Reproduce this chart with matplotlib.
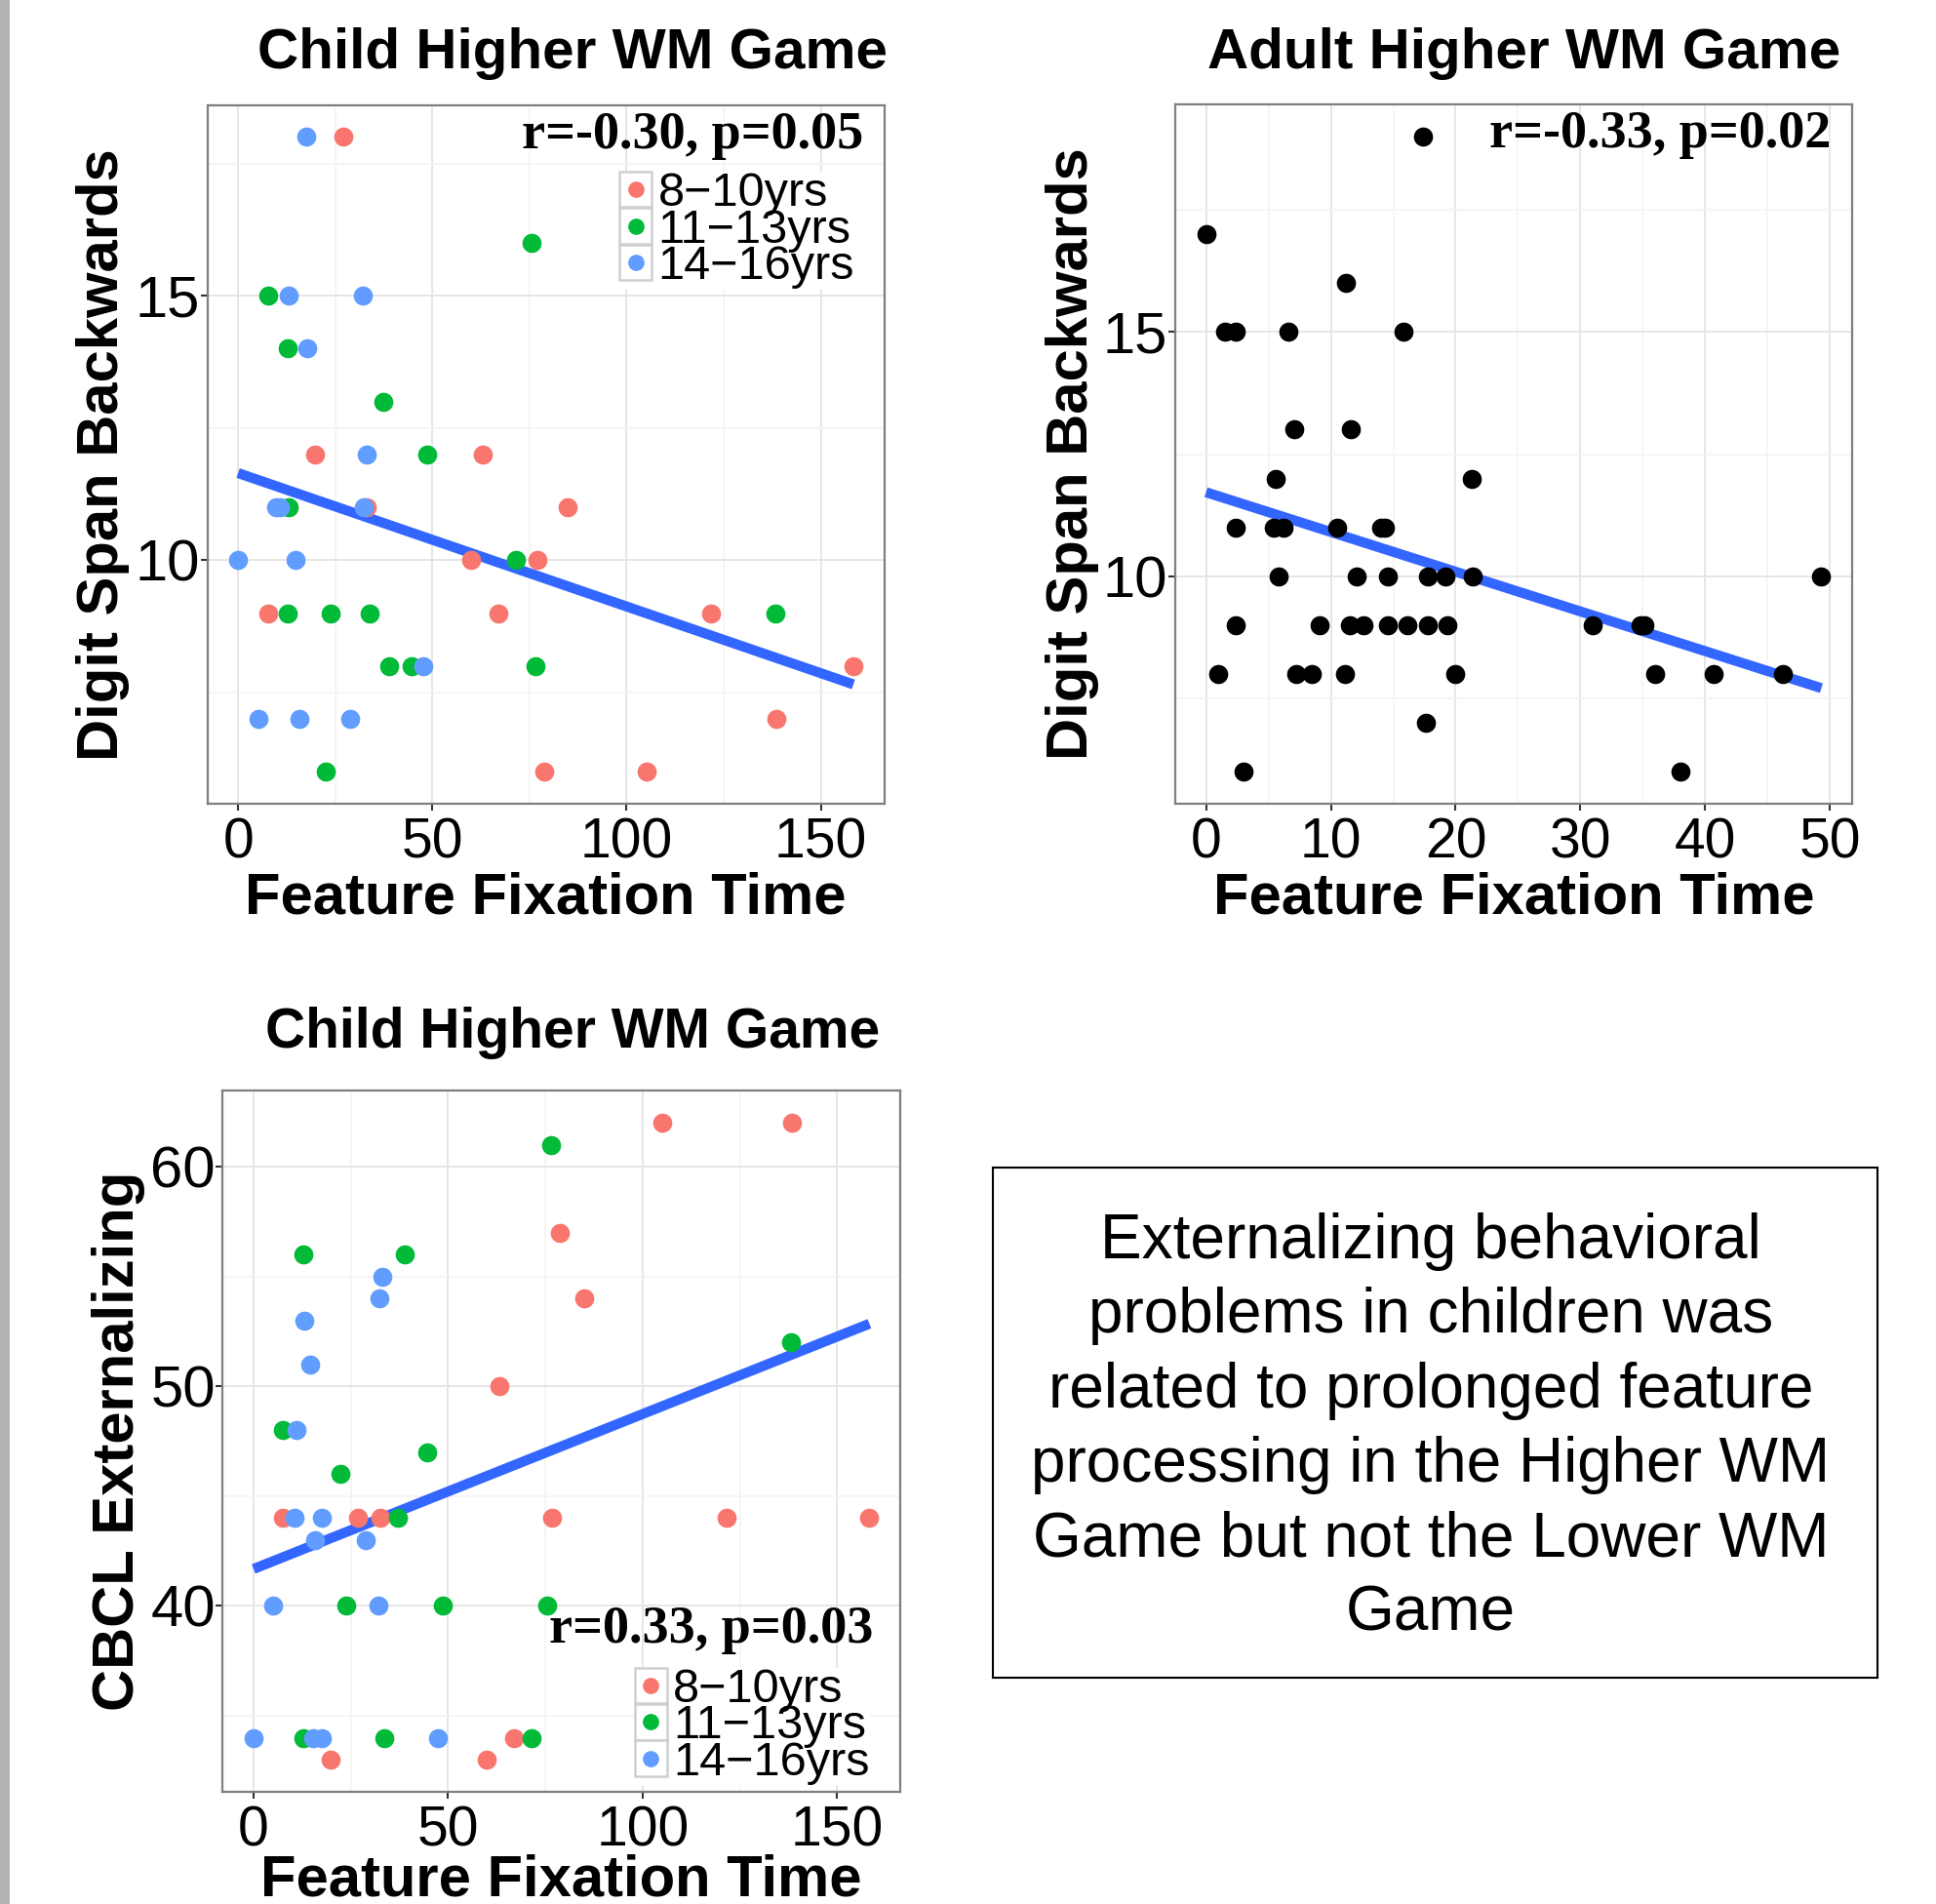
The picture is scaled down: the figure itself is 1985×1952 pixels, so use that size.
import numpy as np
import matplotlib
matplotlib.use("Agg")
import matplotlib.pyplot as plt
from matplotlib.lines import Line2D
from matplotlib.patches import Rectangle
from matplotlib.legend_handler import HandlerBase
from matplotlib.ticker import MultipleLocator

# ---- data ----
age_groups = ["8\u221210yrs", "11\u221213yrs", "14\u221216yrs"]
group_colors = ["#F8766D", "#00BA38", "#619CFF"]

# Child Higher WM Game: feature fixation time vs digit span backwards
ds_x_8_10 = [27.1, 19.7, 63.1, 33.1, 84.9, 60.0, 77.0, 7.8, 67.1, 121.8, 158.4, 138.5, 78.8, 105.2]
ds_y_8_10 = [18, 12, 12, 11, 11, 10, 10, 9, 9, 9, 8, 7, 6, 6]
ds_x_11_13 = [75.6, 7.7, 12.8, 37.4, 48.7, 13.1, 71.5, 12.8, 23.8, 33.9, 138.2, 38.9, 44.6, 76.5, 22.5]
ds_y_11_13 = [16, 15, 14, 13, 12, 11, 10, 9, 9, 9, 9, 8, 8, 8, 6]
ds_x_14_16 = [17.5, 12.9, 32.1, 17.7, 33.2, 9.7, 10.8, 32.4, 0.0, 14.9, 47.6, 5.2, 15.8, 28.9]
ds_y_14_16 = [18, 15, 15, 14, 12, 11, 11, 11, 10, 10, 8, 7, 7, 7]

# Adult Higher WM Game: feature fixation time vs digit span backwards
adult_x = [17.4, 0.0, 11.2, 1.5, 2.4, 6.6, 15.8, 7.1, 11.6, 5.6, 21.3,
           2.4, 5.4, 6.2, 10.5, 14.0, 14.3, 5.8, 12.1, 14.6, 17.8, 19.2, 21.4, 49.3,
           2.4, 9.1, 11.5, 12.6, 14.6, 16.1, 17.8, 19.3, 31.0, 34.8, 35.1,
           1.0, 7.2, 8.5, 11.1, 20.0, 36.0, 40.7, 46.2, 17.6, 3.0, 38.0]
adult_y = [19, 17, 16, 15, 15, 15, 15, 13, 13, 12, 12,
           11, 11, 11, 11, 11, 11, 10, 10, 10, 10, 10, 10, 10,
           9, 9, 9, 9, 9, 9, 9, 9, 9, 9, 9,
           8, 8, 8, 8, 8, 8, 8, 8, 7, 6, 6]

# Child Higher WM Game: feature fixation time vs CBCL externalizing
cb_x_8_10 = [105.0, 138.5, 78.6, 84.9, 63.1, 7.5, 26.9, 32.7, 76.8, 121.7, 158.3, 66.9, 19.8, 59.8]
cb_y_8_10 = [62, 62, 57, 54, 50, 44, 44, 44, 44, 44, 44, 34, 33, 33]
cb_x_11_13 = [76.4, 12.8, 38.9, 138.2, 7.5, 44.7, 22.3, 37.2, 23.7, 48.7, 75.4, 12.8, 33.7, 71.4]
cb_y_11_13 = [61, 56, 56, 52, 48, 47, 46, 44, 40, 40, 40, 34, 34, 34]
cb_x_14_16 = [33.0, 32.4, 13.0, 14.6, 11.1, 10.5, 17.6, 15.9, 28.9, 5.0, 32.2, 0.0, 15.4, 17.5, 47.3]
cb_y_14_16 = [55, 54, 53, 51, 48, 44, 44, 43, 43, 40, 40, 34, 34, 34, 34]

stats_child_ds = "r=-0.30, p=0.05"
stats_adult_ds = "r=-0.33, p=0.02"
stats_child_cb = "r=0.33, p=0.03"
note_text = ("Externalizing behavioral\nproblems in children was\nrelated to prolonged feature\n"
             "processing in the Higher WM\nGame but not the Lower WM\nGame")

plt.rcParams["font.family"] = ["Liberation Sans", "DejaVu Sans"]

W, H = 1985, 1952
SERIF = "Liberation Serif"


def fig_rect(left, top, right, bottom):
    return [left / W, 1 - bottom / H, (right - left) / W, (bottom - top) / H]


def gg_limits(vals, frac=0.05):
    lo, hi = min(vals), max(vals)
    pad = (hi - lo) * frac
    return lo - pad, hi + pad


class BoxedDot(HandlerBase):
    # ggplot style legend key: grey bordered square with a dot
    def create_artists(self, legend, orig_handle, xdescent, ydescent, width, height, fontsize, trans):
        box = Rectangle((-xdescent, -ydescent), width, height, facecolor="white",
                        edgecolor="#cfcfcf", linewidth=1.8, transform=trans)
        dot = Line2D([-xdescent + width / 2], [-ydescent + height / 2], marker="o",
                     markersize=11, linestyle="", color=orig_handle.get_color(), transform=trans)
        return [box, dot]


def style_axes(ax, xstep, ystep):
    ax.xaxis.set_major_locator(MultipleLocator(xstep))
    ax.xaxis.set_minor_locator(MultipleLocator(xstep / 2))
    ax.yaxis.set_major_locator(MultipleLocator(ystep))
    ax.yaxis.set_minor_locator(MultipleLocator(ystep / 2))
    ax.grid(which="major", color="#e6e6e6", linewidth=1.4)
    ax.grid(which="minor", color="#f3f3f3", linewidth=1.2)
    ax.set_axisbelow(True)
    for sp in ax.spines.values():
        sp.set_color("#7f7f7f")
        sp.set_linewidth(1.6)
    ax.tick_params(which="major", length=5, width=1.5, color="#333333")
    ax.tick_params(axis="x", which="major", pad=5, labelsize=41)
    ax.tick_params(axis="y", which="major", pad=0.5, labelsize=43)
    ax.tick_params(which="minor", length=0)


def add_fit(ax, xs, ys):
    xs = np.asarray(xs, float)
    ys = np.asarray(ys, float)
    slope, icpt = np.polyfit(xs, ys, 1)
    xx = np.array([xs.min(), xs.max()])
    ax.plot(xx, icpt + slope * xx, color="#3366FF", linewidth=7.4, solid_capstyle="butt", zorder=2)


def add_labels(ax, ylabel, xlab_y, ylab_x):
    ax.set_xlabel("Feature Fixation Time", fontsize=43, fontweight="bold", va="baseline")
    ax.xaxis.set_label_coords(0.5, xlab_y)
    ax.set_ylabel(ylabel, fontsize=43, fontweight="bold", va="center")
    ax.yaxis.set_label_coords(ylab_x, 0.5)


def add_legend(ax, anchor):
    handles = [Line2D([], [], color=c) for c in group_colors]
    leg = ax.legend(handles, age_groups, loc="upper left", bbox_to_anchor=anchor,
                    handler_map={Line2D: BoxedDot()}, fontsize=35, frameon=True,
                    fancybox=False, borderpad=0.0, borderaxespad=0.0, labelspacing=-0.16,
                    handlelength=0.68, handleheight=0.78, handletextpad=0.13)
    leg.get_frame().set_facecolor("white")
    leg.get_frame().set_edgecolor("none")
    leg.get_frame().set_alpha(1)
    leg.set_zorder(5)


fig = plt.figure(figsize=(W / 100, H / 100), dpi=100)
fig.patches.append(Rectangle((0, 0), 10 / W, 1, transform=fig.transFigure,
                             facecolor="#b3b3b3", edgecolor="none"))

# --- top left: child, digit span ---
ax1 = fig.add_axes(fig_rect(212.6, 107.9, 906.5, 824))
style_axes(ax1, 50, 5)
for xs, ys, c in zip([ds_x_8_10, ds_x_11_13, ds_x_14_16], [ds_y_8_10, ds_y_11_13, ds_y_14_16], group_colors):
    ax1.scatter(xs, ys, s=200, color=c, linewidths=0, zorder=3)
all_x1 = ds_x_8_10 + ds_x_11_13 + ds_x_14_16
all_y1 = ds_y_8_10 + ds_y_11_13 + ds_y_14_16
add_fit(ax1, all_x1, all_y1)
ax1.set_xlim(gg_limits(all_x1))
ax1.set_ylim(gg_limits(all_y1))
add_labels(ax1, "Digit Span Backwards", -0.157, -0.154)
ax1.text(0.970, 0.957, stats_child_ds, transform=ax1.transAxes, ha="right", va="center",
         fontsize=39, fontweight="bold", family=SERIF, zorder=6)
add_legend(ax1, (0.609, 0.905))

# --- top right: adult, digit span ---
ax2 = fig.add_axes(fig_rect(1205, 107, 1899, 824))
style_axes(ax2, 10, 5)
ax2.scatter(adult_x, adult_y, s=200, color="black", linewidths=0, zorder=3)
add_fit(ax2, adult_x, adult_y)
ax2.set_xlim(gg_limits(adult_x))
ax2.set_ylim(gg_limits(adult_y))
add_labels(ax2, "Digit Span Backwards", -0.157, -0.152)
ax2.text(0.969, 0.957, stats_adult_ds, transform=ax2.transAxes, ha="right", va="center",
         fontsize=39, fontweight="bold", family=SERIF, zorder=6)

# --- bottom left: child, CBCL externalizing ---
ax3 = fig.add_axes(fig_rect(228.4, 1118.4, 923, 1836.7))
style_axes(ax3, 50, 10)
for xs, ys, c in zip([cb_x_8_10, cb_x_11_13, cb_x_14_16], [cb_y_8_10, cb_y_11_13, cb_y_14_16], group_colors):
    ax3.scatter(xs, ys, s=200, color=c, linewidths=0, zorder=3)
all_x3 = cb_x_8_10 + cb_x_11_13 + cb_x_14_16
all_y3 = cb_y_8_10 + cb_y_11_13 + cb_y_14_16
add_fit(ax3, all_x3, all_y3)
ax3.set_xlim(gg_limits(all_x3))
ax3.set_ylim(gg_limits(all_y3))
add_labels(ax3, "CBCL Externalizing", -0.148, -0.154)
ax3.text(0.960, 0.231, stats_child_cb, transform=ax3.transAxes, ha="right", va="center",
         fontsize=39, fontweight="bold", family=SERIF, zorder=6)
add_legend(ax3, (0.608, 0.177))

# titles
fig.text(587 / W, 1 - 70 / H, "Child Higher WM Game", ha="center", va="baseline",
         fontsize=42, fontweight="bold")
fig.text(1563 / W, 1 - 70 / H, "Adult Higher WM Game", ha="center", va="baseline",
         fontsize=42, fontweight="bold")
fig.text(587 / W, 1 - 1074 / H, "Child Higher WM Game", ha="center", va="baseline",
         fontsize=41, fontweight="bold")

# note box
box = fig.add_axes(fig_rect(1018, 1197, 1925, 1720))
box.set_xticks([])
box.set_yticks([])
for sp in box.spines.values():
    sp.set_color("black")
    sp.set_linewidth(1.5)
box.text(0.495, 0.49, note_text, transform=box.transAxes, ha="center", va="center",
         fontsize=46, linespacing=1.35)

fig.savefig("out.png", dpi=100)
